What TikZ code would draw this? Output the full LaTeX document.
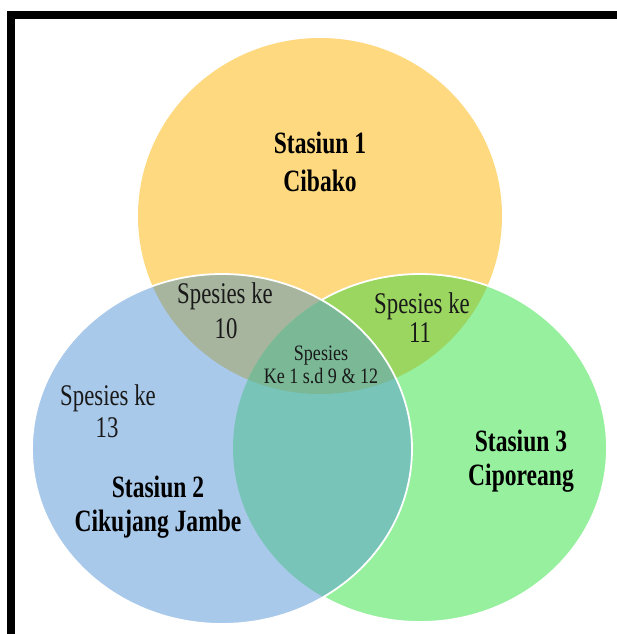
\documentclass[tikz,border=0pt]{standalone}
\usepackage{fontspec}
\setmainfont{Liberation Serif}
\newfontfamily\bigboldfam[FakeStretch=0.76]{Liberation Serif}
\newfontfamily\midregfam[FakeStretch=0.76]{Liberation Serif}
\newfontfamily\smallregfam[FakeStretch=0.82]{Liberation Serif}
\definecolor{colY}{HTML}{FED980}
\definecolor{colB}{HTML}{A9C9EA}
\definecolor{colG}{HTML}{96F09E}
\definecolor{colYB}{HTML}{A7B49E}
\definecolor{colYG}{HTML}{9BD660}
\definecolor{colBG}{HTML}{78C4B9}
\definecolor{colYBG}{HTML}{7AB896}
\tikzset{
  biglbl/.style={font=\bigboldfam\bfseries\fontsize{31}{31}\selectfont, text=black, inner sep=0pt, anchor=base},
  midlbl/.style={font=\midregfam\fontsize{30}{30}\selectfont, text=black!90, inner sep=0pt, anchor=base},
  smalllbl/.style={font=\smallregfam\fontsize{22}{22}\selectfont, text=black!90, inner sep=0pt, anchor=base},
  rim/.style={draw=white, line width=1.8pt},
  framebar/.style={fill=black}
}
\def\ellY{(320,216) ellipse [x radius=182pt, y radius=178pt]}
\def\ellB{(222,449) ellipse [x radius=190pt, y radius=175pt]}
\def\ellG{(420,448) ellipse [x radius=187pt, y radius=174pt]}
\begin{document}
\begin{tikzpicture}[x=1pt,y=-1pt]
\useasboundingbox (0,0) rectangle (617,634);
\fill[white] (0,0) rectangle (617,634);
% base fills
\fill[colY] \ellY;
\fill[colG] \ellG;
\fill[colB] \ellB;
% pairwise overlaps
\begin{scope}\clip \ellY; \fill[colYB] \ellB; \end{scope}
\begin{scope}\clip \ellY; \fill[colYG] \ellG; \end{scope}
\begin{scope}\clip \ellB; \fill[colBG] \ellG; \end{scope}
% triple overlap
\begin{scope}\clip \ellY; \clip \ellB; \fill[colYBG] \ellG; \end{scope}
% green rim outside blue
\begin{scope}[even odd rule]
  \clip (0,0) rectangle (617,634) \ellB;
  \draw[rim] \ellG;
\end{scope}
% blue rim
\draw[rim] \ellB;
% frame
\fill[framebar] (7,11) rectangle (617,19);
\fill[framebar] (7,11) rectangle (15,634);
% labels
\node[biglbl] (s1a) at (320,153) {Stasiun 1};
\node[biglbl] (s1b) at (320,191) {Cibako};
\node[biglbl] (s2a) at (158,497) {Stasiun 2};
\node[biglbl] (s2b) at (158,531) {Cikujang Jambe};
\node[biglbl] (s3a) at (521,451) {Stasiun 3};
\node[biglbl] (s3b) at (521,485) {Ciporeang};
\node[midlbl] (p10a) at (225,303) {Spesies ke};
\node[midlbl] (p10b) at (226,338) {10};
\node[midlbl] (p11a) at (422,313) {Spesies ke};
\node[midlbl] (p11b) at (420,342) {11};
\node[midlbl] (p13a) at (108,405) {Spesies ke};
\node[midlbl] (p13b) at (107,437) {13};
\node[smalllbl] (pca) at (321,360) {Spesies};
\node[smalllbl] (pcb) at (321,383) {Ke 1 s.d 9 \& 12};
\end{tikzpicture}
\end{document}
